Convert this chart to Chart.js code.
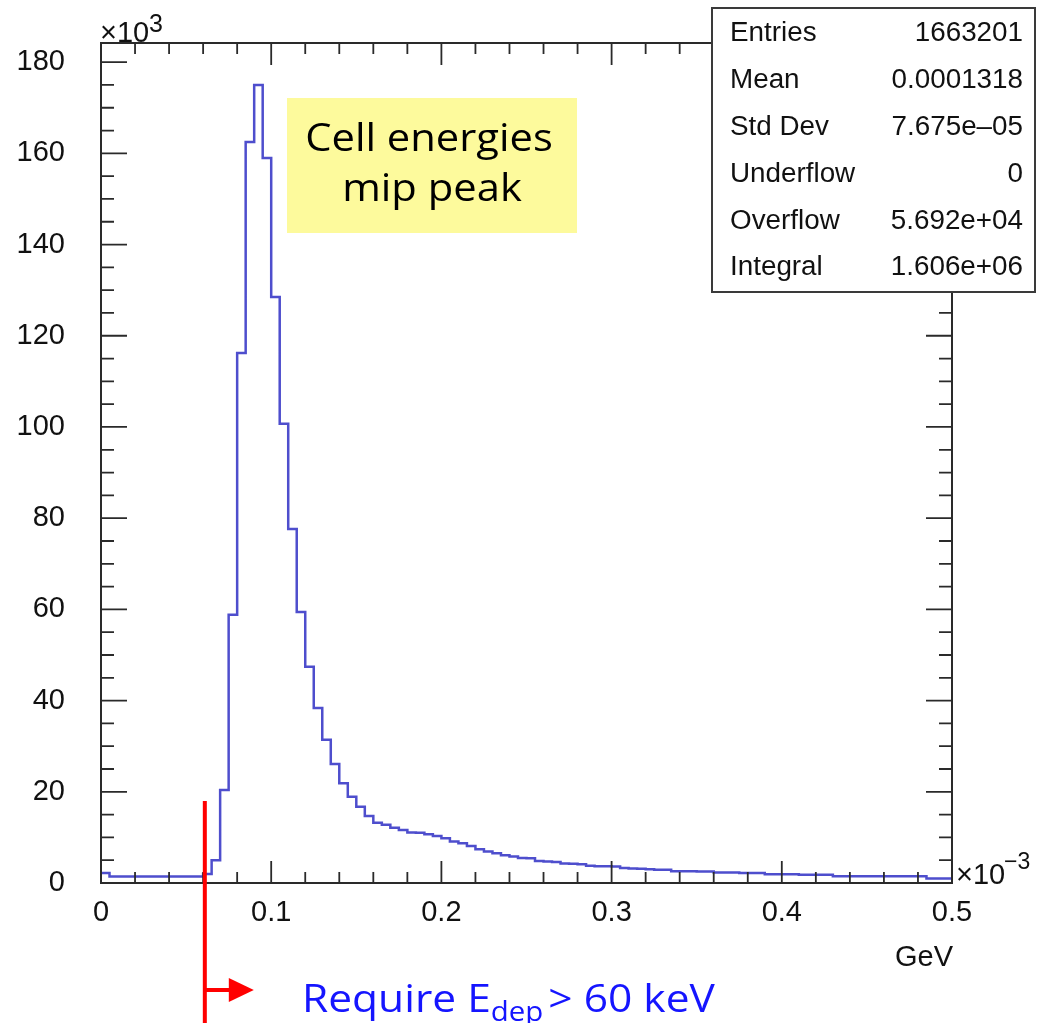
<!DOCTYPE html>
<html>
<head>
<meta charset="utf-8">
<script src="https://cdn.jsdelivr.net/npm/chart.js@4.4.0/dist/chart.umd.min.js"></script>
<style>
  html, body { margin: 0; padding: 0; background: #fff; }
  #wrap { width: 1038px; height: 1023px; }
</style>
</head>
<body>
<div id="wrap"><canvas id="histChart" width="1038" height="1023"></canvas></div>
<script>
// histogram: 100 bins of 0.005 (x in units of 1e-3 GeV), counts in units of 1e3
const binWidth = 0.005;
const counts = [
  2.2, 1.4, 1.4, 1.4, 1.4, 1.4, 1.4, 1.4, 1.4, 1.4,
  1.4, 1.4, 2.0, 5.0, 20.4, 58.8, 116.2, 162.5, 175.0, 159.0,
  128.5, 100.7, 77.6, 59.4, 47.4, 38.4, 31.4, 26.1, 21.9, 18.9,
  16.7, 14.7, 13.2, 12.8, 12.1, 11.6, 11.1, 11.0, 10.7, 10.3,
  9.8, 9.1, 8.7, 8.1, 7.4, 6.9, 6.5, 6.1, 5.8, 5.5,
  5.4, 4.8, 4.7, 4.6, 4.3, 4.2, 4.1, 3.8, 3.7, 3.7,
  3.6, 3.3, 3.2, 3.1, 3.0, 2.9, 2.9, 2.6, 2.6, 2.6,
  2.5, 2.5, 2.3, 2.3, 2.3, 2.2, 2.2, 2.2, 1.9, 1.9,
  1.9, 1.9, 1.8, 1.8, 1.8, 1.8, 1.5, 1.5, 1.5, 1.5,
  1.5, 1.5, 1.5, 1.5, 1.5, 1.5, 1.5, 1.0, 1.0, 1.0
];
const xTicks = [0, 0.1, 0.2, 0.3, 0.4, 0.5];
const xTickLabels = ['0', '0.1', '0.2', '0.3', '0.4', '0.5'];
const yTicks = [0, 20, 40, 60, 80, 100, 120, 140, 160, 180];
const xMinorTicks = [0.02, 0.04, 0.06, 0.08, 0.12, 0.14, 0.16, 0.18, 0.22, 0.24, 0.26, 0.28,
  0.32, 0.34, 0.36, 0.38, 0.42, 0.44, 0.46, 0.48];
const yMinorTicks = [5, 10, 15, 25, 30, 35, 45, 50, 55, 65, 70, 75, 85, 90, 95,
  105, 110, 115, 125, 130, 135, 145, 150, 155, 165, 170, 175];
const statNames = ['Entries', 'Mean', 'Std Dev', 'Underflow', 'Overflow', 'Integral'];
const statValues = ['1663201', '0.0001318', '7.675e\u201305', '0', '5.692e+04', '1.606e+06'];
const cutValue = 0.061;   // ~60 keV
const cutTop = 18;

const points = counts.map((c, i) => ({ x: i * binWidth, y: c }));
points.push({ x: counts.length * binWidth, y: counts[counts.length - 1] });

const AXIS_FONT = '29px "Liberation Sans", Arial, sans-serif';
const SANS = '"Open Sans", "Noto Sans", sans-serif';

// draw text stretched horizontally, anchored at x according to align
function wideText(ctx, str, x, y, sx, align) {
  const w = ctx.measureText(str).width * sx;
  let left = x;
  if (align === 'center') left = x - w / 2;
  if (align === 'right') left = x - w;
  ctx.save();
  ctx.textAlign = 'left';
  ctx.translate(left, y);
  ctx.scale(sx, 1);
  ctx.fillText(str, 0, 0);
  ctx.restore();
  return w;
}

const rootFrame = {
  id: 'rootFrame',
  afterDatasetsDraw(chart) {
    const ctx = chart.ctx;
    const xs = chart.scales.x;
    const ys = chart.scales.y;
    const a = chart.chartArea;
    ctx.save();

    // frame
    ctx.strokeStyle = '#2a2a2a';
    ctx.lineWidth = 2;
    ctx.strokeRect(a.left, a.top, a.right - a.left, a.bottom - a.top);

    // ticks on all four sides, pointing inwards
    ctx.lineWidth = 1.8;
    ctx.beginPath();
    xTicks.forEach(v => {
      const px = xs.getPixelForValue(v);
      ctx.moveTo(px, a.bottom); ctx.lineTo(px, a.bottom - 22);
      ctx.moveTo(px, a.top); ctx.lineTo(px, a.top + 22);
    });
    xMinorTicks.forEach(v => {
      const px = xs.getPixelForValue(v);
      ctx.moveTo(px, a.bottom); ctx.lineTo(px, a.bottom - 11);
      ctx.moveTo(px, a.top); ctx.lineTo(px, a.top + 11);
    });
    yTicks.forEach(v => {
      const py = ys.getPixelForValue(v);
      ctx.moveTo(a.left, py); ctx.lineTo(a.left + 26, py);
      ctx.moveTo(a.right, py); ctx.lineTo(a.right - 26, py);
    });
    yMinorTicks.forEach(v => {
      const py = ys.getPixelForValue(v);
      ctx.moveTo(a.left, py); ctx.lineTo(a.left + 13, py);
      ctx.moveTo(a.right, py); ctx.lineTo(a.right - 13, py);
    });
    ctx.stroke();

    // tick labels
    ctx.fillStyle = '#111';
    ctx.font = AXIS_FONT;
    ctx.textAlign = 'right';
    ctx.textBaseline = 'middle';
    yTicks.forEach(v => ctx.fillText(String(v), a.left - 36, ys.getPixelForValue(v)));
    ctx.textAlign = 'center';
    xTicks.forEach((v, i) => ctx.fillText(xTickLabels[i], xs.getPixelForValue(v), a.bottom + 30));

    // axis title and exponents
    ctx.textAlign = 'right';
    ctx.fillText('GeV', a.right + 1, a.bottom + 75);
    ctx.textAlign = 'left';
    ctx.textBaseline = 'alphabetic';
    ctx.fillText('\u00d710', a.left - 1, a.top - 1);
    ctx.font = '25px "Liberation Sans", Arial, sans-serif';
    ctx.fillText('3', a.left + 48, a.top - 11);
    ctx.font = AXIS_FONT;
    ctx.fillText('\u00d710', a.right + 4, a.bottom + 1);
    ctx.font = '23px "Liberation Sans", Arial, sans-serif';
    ctx.fillText('\u22123', a.right + 52, a.bottom - 14);

    // stats box
    const bx = 712, by = 8, bw = 323, bh = 284;
    ctx.fillStyle = '#fff';
    ctx.fillRect(bx, by, bw, bh);
    ctx.strokeStyle = '#3a3a3a';
    ctx.lineWidth = 2;
    ctx.strokeRect(bx, by, bw, bh);
    ctx.fillStyle = '#111';
    ctx.font = '27px "Liberation Sans", Arial, sans-serif';
    ctx.textBaseline = 'middle';
    statNames.forEach((n, i) => {
      const ty = by + 26 + i * 46.8;
      wideText(ctx, n, bx + 18, ty, 1.03, 'left');
      wideText(ctx, statValues[i], bx + bw - 12, ty, 1.03, 'right');
    });

    // annotation box
    ctx.fillStyle = '#fdfa9c';
    ctx.fillRect(287, 98, 290, 135);
    ctx.fillStyle = '#000';
    ctx.font = '39px ' + SANS;
    wideText(ctx, 'Cell energies', 429, 140, 1.07, 'center');
    wideText(ctx, 'mip peak', 432, 190, 1.07, 'center');

    // energy cut marker
    const cx = xs.getPixelForValue(cutValue);
    ctx.strokeStyle = '#ff0000';
    ctx.lineWidth = 4;
    ctx.beginPath();
    ctx.moveTo(cx, ys.getPixelForValue(cutTop));
    ctx.lineTo(cx, chart.height);
    ctx.moveTo(cx, 990);
    ctx.lineTo(cx + 26, 990);
    ctx.stroke();
    ctx.fillStyle = '#ff0000';
    ctx.beginPath();
    ctx.moveTo(cx + 24, 978);
    ctx.lineTo(cx + 49, 990);
    ctx.lineTo(cx + 24, 1002);
    ctx.closePath();
    ctx.fill();

    // cut label
    ctx.fillStyle = '#1515ff';
    ctx.textBaseline = 'alphabetic';
    ctx.font = '39px ' + SANS;
    let tx = 302;
    tx += wideText(ctx, 'Require E', tx, 1012, 1.09, 'left');
    ctx.font = '27px ' + SANS;
    tx += wideText(ctx, 'dep', tx, 1021, 1.09, 'left') + 5;
    ctx.font = '39px ' + SANS;
    wideText(ctx, '> 60 keV', tx, 1012, 1.09, 'left');

    ctx.restore();
  }
};

new Chart(document.getElementById('histChart').getContext('2d'), {
  type: 'line',
  data: {
    datasets: [{
      data: points,
      stepped: 'before',
      borderColor: 'rgb(78, 78, 205)',
      borderWidth: 2.5,
      pointRadius: 0,
      fill: false
    }]
  },
  options: {
    responsive: false,
    animation: false,
    devicePixelRatio: 1,
    layout: { padding: { left: 101, right: 86, top: 43, bottom: 140 } },
    plugins: { legend: { display: false }, tooltip: { enabled: false } },
    scales: {
      x: { type: 'linear', min: 0, max: 0.5, display: false },
      y: { type: 'linear', min: 0, max: 184.2, display: false }
    }
  },
  plugins: [rootFrame]
});
</script>
</body>
</html>
